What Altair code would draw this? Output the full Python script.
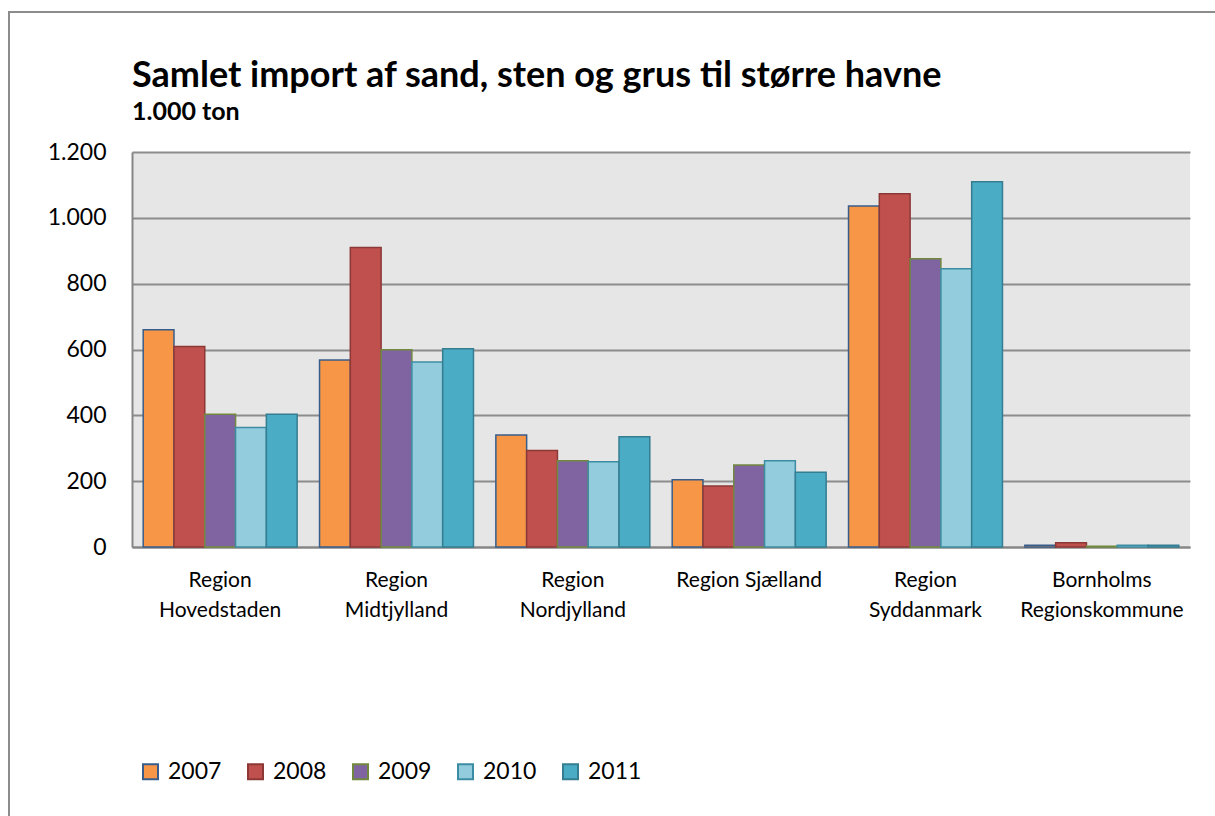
import altair as alt
import pandas as pd

regions = ["Region Hovedstaden", "Region Midtjylland", "Region Nordjylland",
           "Region Sjælland", "Region Syddanmark", "Bornholms Regionskommune"]
years = ["2007", "2008", "2009", "2010", "2011"]
v2007 = [660, 568, 340, 204, 1036, 5]
v2008 = [609, 910, 293, 185, 1073, 13]
v2009 = [403, 599, 262, 249, 876, 2]
v2010 = [363, 562, 259, 262, 845, 5]
v2011 = [403, 602, 335, 227, 1110, 5]
y_ticks = [0, 200, 400, 600, 800, 1000, 1200]

fill_colors = ["#F79646", "#C0504D", "#8064A2", "#93CDDD", "#4BACC6"]
stroke_colors = ["#385D8A", "#8C3836", "#71893F", "#3C8DA3", "#357D91"]

rows = []
for yr, vals in zip(years, [v2007, v2008, v2009, v2010, v2011]):
    for r, v in zip(regions, vals):
        rows.append({"region": r, "year": yr, "value": v})
df = pd.DataFrame(rows)

legend = alt.Legend(
    title=None, orient="none", legendX=7, legendY=608, direction="horizontal",
    columns=5, symbolType="square", symbolSize=225, symbolStrokeWidth=2,
    labelFontSize=23, labelColor="#000000", labelOffset=6, columnPadding=22,
    padding=0, labelFont="Lato",
)

bars = alt.Chart(df).mark_bar(strokeWidth=1.5).encode(
    x=alt.X("region:N", sort=regions,
            scale=alt.Scale(paddingInner=0.127, paddingOuter=0.0635),
            axis=alt.Axis(title=None, labelAngle=0, ticks=False, labelPadding=22,
                          labelFontSize=21, labelLineHeight=30, labelColor="#000000",
                          labelBaseline="top", labelLimit=300,
                          domainColor="#868686", domainWidth=2,
                          labelExpr="datum.value == 'Region Sjælland' ? datum.value : split(datum.value, ' ')")),
    xOffset=alt.XOffset("year:N", sort=years, scale=alt.Scale(paddingInner=0, paddingOuter=0)),
    y=alt.Y("value:Q", scale=alt.Scale(domain=[0, 1200], nice=False),
            axis=alt.Axis(title=None, values=y_ticks, ticks=False, labelPadding=26,
                          labelFontSize=23, labelColor="#000000",
                          labelExpr="replace(format(datum.value, ','), ',', '.')",
                          grid=True, gridColor="#8C8C8C", gridWidth=2,
                          domainColor="#868686", domainWidth=2)),
    fill=alt.Fill("year:N", scale=alt.Scale(domain=years, range=fill_colors), legend=legend),
    stroke=alt.Stroke("year:N", scale=alt.Scale(domain=years, range=stroke_colors), legend=legend),
)

frame = alt.Chart(pd.DataFrame({"a": [0]})).mark_rect(
    fill="transparent", stroke="#8C8C8C", strokeWidth=2
).encode(
    x=alt.value(-123), x2=alt.value(1120), y=alt.value(-140), y2=alt.value(700)
)

chart = alt.layer(frame, bars).properties(
    width=1058, height=395,
    autosize=alt.AutoSizeParams(type="none"),
    padding={"left": 132, "top": 152, "right": 25, "bottom": 269},
    title=alt.Title(
        text="Samlet import af sand, sten og grus til større havne",
        subtitle="1.000 ton", anchor="start", frame="group",
        font="Lato", fontSize=36, fontWeight="bold", color="#000000",
        subtitleFont="Lato", subtitleFontSize=25, subtitleFontWeight="bold",
        subtitleColor="#000000", subtitlePadding=5, offset=-115,
    ),
).configure(font="Lato").configure_view(fill="#E6E6E6", stroke=None)

chart.save("out.html", embed_options={"renderer": "svg", "actions": False})
